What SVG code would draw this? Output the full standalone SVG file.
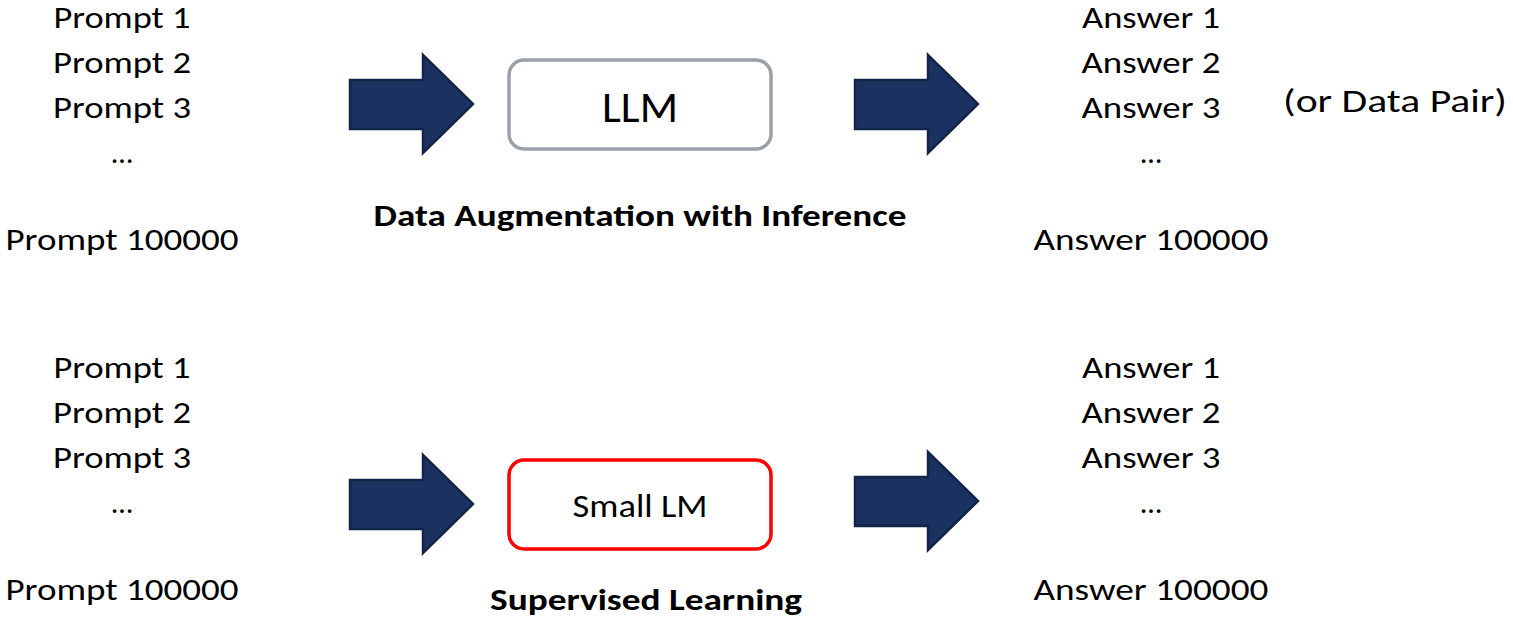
<svg xmlns="http://www.w3.org/2000/svg" width="1513" height="617" viewBox="0 0 1513 617">
  <defs>
    <style>
      text { font-family: Carlito, Lato, "Open Sans", sans-serif; fill: #000; }
      .item { font-size: 30px; text-anchor: middle; }
      .note { font-size: 32px; }
      .caption { font-size: 31px; font-weight: bold; text-anchor: middle; }
      .arrow { fill: #1b3160; stroke: #13244a; stroke-width: 2.5; stroke-linejoin: miter; }
      .box { fill: #fff; stroke-width: 3.5; }
    </style>
    <path id="block-arrow" d="M0,25 H73 V0 L123,49 L73,98 V74 H0 Z"/>
  </defs>

  <rect width="1513" height="617" fill="#fff"/>

  <!-- block arrows between the stages -->
  <g id="connectors">
    <use href="#block-arrow" class="arrow" x="350" y="55"/>
    <use href="#block-arrow" class="arrow" x="855" y="55"/>
    <use href="#block-arrow" class="arrow" x="350" y="455"/>
    <use href="#block-arrow" class="arrow" x="855" y="452"/>
  </g>

  <!-- top row: inference -->
  <g id="prompts-top">
    <text class="item" x="122" y="28" textLength="137" lengthAdjust="spacingAndGlyphs">Prompt 1</text>
    <text class="item" x="122" y="73" textLength="138" lengthAdjust="spacingAndGlyphs">Prompt 2</text>
    <text class="item" x="122" y="118" textLength="138" lengthAdjust="spacingAndGlyphs">Prompt 3</text>
    <text class="item" x="122" y="163">…</text>
    <text class="item" x="122" y="250" textLength="233" lengthAdjust="spacingAndGlyphs">Prompt 100000</text>
  </g>
  <g id="llm">
    <rect class="box" x="509" y="60" width="262" height="89" rx="15" stroke="#9aa0a8"/>
    <text x="640" y="122" font-size="44" text-anchor="middle" textLength="76" lengthAdjust="spacingAndGlyphs">LLM</text>
    <text class="caption" x="640" y="226" textLength="533" lengthAdjust="spacingAndGlyphs">Data Augmentation with Inference</text>
  </g>
  <g id="answers-top">
    <text class="item" x="1151" y="28" textLength="138" lengthAdjust="spacingAndGlyphs">Answer 1</text>
    <text class="item" x="1151" y="73" textLength="139" lengthAdjust="spacingAndGlyphs">Answer 2</text>
    <text class="item" x="1151" y="118" textLength="139" lengthAdjust="spacingAndGlyphs">Answer 3</text>
    <text class="item" x="1151" y="163">…</text>
    <text class="item" x="1151" y="250" textLength="235" lengthAdjust="spacingAndGlyphs">Answer 100000</text>
    <text class="note" x="1283" y="112" textLength="224" lengthAdjust="spacingAndGlyphs">(or Data Pair)</text>
  </g>

  <!-- bottom row: supervised training -->
  <g id="prompts-bottom">
    <text class="item" x="122" y="378" textLength="137" lengthAdjust="spacingAndGlyphs">Prompt 1</text>
    <text class="item" x="122" y="423" textLength="138" lengthAdjust="spacingAndGlyphs">Prompt 2</text>
    <text class="item" x="122" y="468" textLength="138" lengthAdjust="spacingAndGlyphs">Prompt 3</text>
    <text class="item" x="122" y="513">…</text>
    <text class="item" x="122" y="600" textLength="233" lengthAdjust="spacingAndGlyphs">Prompt 100000</text>
  </g>
  <g id="small-lm">
    <rect class="box" x="509" y="460" width="262" height="89" rx="15" stroke="#ff0000"/>
    <text x="640" y="517" font-size="32" text-anchor="middle" textLength="135" lengthAdjust="spacingAndGlyphs">Small LM</text>
    <text class="caption" x="646" y="610" textLength="312" lengthAdjust="spacingAndGlyphs">Supervised Learning</text>
  </g>
  <g id="answers-bottom">
    <text class="item" x="1151" y="378" textLength="138" lengthAdjust="spacingAndGlyphs">Answer 1</text>
    <text class="item" x="1151" y="423" textLength="139" lengthAdjust="spacingAndGlyphs">Answer 2</text>
    <text class="item" x="1151" y="468" textLength="139" lengthAdjust="spacingAndGlyphs">Answer 3</text>
    <text class="item" x="1151" y="513">…</text>
    <text class="item" x="1151" y="600" textLength="235" lengthAdjust="spacingAndGlyphs">Answer 100000</text>
  </g>
</svg>
